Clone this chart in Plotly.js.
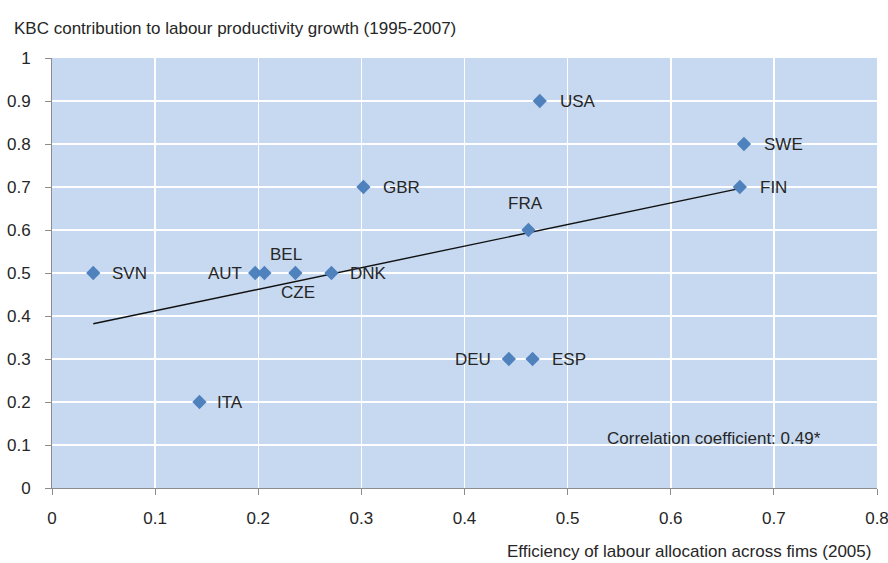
<!DOCTYPE html>
<html>
<head>
<meta charset="utf-8">
<script src="https://cdn.plot.ly/plotly-3.0.1.min.js"></script>
<style>html,body{margin:0;padding:0;background:#fff;}#chart{width:888px;height:563px;}</style>
</head>
<body>
<div id="chart"></div>
<script>
var countries = ["SVN","ITA","AUT","BEL","CZE","DNK","GBR","FRA","USA","DEU","ESP","SWE","FIN"];
var efficiency = [0.040,0.143,0.197,0.206,0.236,0.271,0.302,0.462,0.473,0.443,0.466,0.671,0.667];
var kbcContribution = [0.5,0.2,0.5,0.5,0.5,0.5,0.7,0.6,0.9,0.3,0.3,0.8,0.7];
var xTicks = [0,0.1,0.2,0.3,0.4,0.5,0.6,0.7,0.8];
var xTickText = ["0","0.1","0.2","0.3","0.4","0.5","0.6","0.7","0.8"];
var yTicks = [0,0.1,0.2,0.3,0.4,0.5,0.6,0.7,0.8,0.9,1];
var yTickText = ["0","0.1","0.2","0.3","0.4","0.5","0.6","0.7","0.8","0.9","1"];
var yTitle = "KBC contribution to labour productivity growth (1995-2007)";
var xTitle = "Efficiency of labour allocation across fims (2005)";
var correlationText = "Correlation coefficient: 0.49*";

// label placement (style): [xanchor, yanchor, xshift, yshift]
var labelPlacement = [
  ["left","middle",17,0], ["left","middle",16,0], ["right","middle",-11,0],
  ["center","middle",22,19], ["center","middle",3,-19], ["left","middle",17,0],
  ["left","middle",18,0], ["center","middle",-3,27], ["left","middle",18,0],
  ["right","middle",-16,0], ["left","middle",17,0], ["left","middle",18,0],
  ["left","middle",18,0]
];

// OLS fit from the data
var n = efficiency.length, mx = 0, my = 0;
for (var i=0;i<n;i++){mx+=efficiency[i];my+=kbcContribution[i];}
mx/=n; my/=n;
var sxy=0,sxx=0;
for (var i=0;i<n;i++){sxy+=(efficiency[i]-mx)*(kbcContribution[i]-my);sxx+=(efficiency[i]-mx)*(efficiency[i]-mx);}
var slope=sxy/sxx, icpt=my-slope*mx;
var xmin=Math.min.apply(null,efficiency), xmax=Math.max.apply(null,efficiency);
var fitX=[xmin,xmax], fitY=[icpt+slope*xmin, icpt+slope*xmax];

var fam = "Liberation Sans, Arial, sans-serif";
var txtColor = "#262626";
var fs = 17;

var traces = [
  {x:fitX, y:fitY, mode:"lines", line:{color:"#111", width:1.4}, hoverinfo:"skip", showlegend:false},
  {x:efficiency, y:kbcContribution, mode:"markers",
   marker:{symbol:"diamond", size:11, color:"#4f81bd"}, showlegend:false, cliponaxis:false}
];

var annotations = countries.map(function(c,i){
  var p = labelPlacement[i];
  return {x:efficiency[i], y:kbcContribution[i], xref:"x", yref:"y", text:c, showarrow:false,
    xanchor:p[0], yanchor:p[1], xshift:p[2], yshift:p[3], font:{family:fam,size:fs,color:txtColor}};
});
annotations.push(
  {xref:"paper", yref:"paper", x:0.670, y:0.116, xanchor:"left", yanchor:"middle", showarrow:false,
   text:correlationText, font:{family:fam,size:fs,color:txtColor}},
  {xref:"paper", yref:"paper", x:-0.0485, y:1.0, yshift:30, xanchor:"left", yanchor:"middle", showarrow:false,
   text:yTitle, font:{family:fam,size:fs,color:txtColor}},
  {xref:"paper", yref:"paper", x:0.995, y:0, yshift:-63, xanchor:"right", yanchor:"middle", showarrow:false,
   text:xTitle, font:{family:fam,size:fs,color:txtColor}}
);

var layout = {
  width:888, height:563,
  margin:{l:52, r:11, t:58, b:75},
  paper_bgcolor:"#ffffff", plot_bgcolor:"#c6d9f0",
  font:{family:fam, size:fs, color:txtColor},
  showlegend:false,
  xaxis:{range:[0,0.8], tickvals:xTicks, ticktext:xTickText, showgrid:true, gridcolor:"#ffffff", gridwidth:1.5,
    zeroline:false, showline:true, linecolor:"#8c8c8c", linewidth:1, ticks:"outside", ticklen:6, tickcolor:"#8c8c8c",
    ticklabelstandoff:9, ticklabeloverflow:"allow", tickfont:{family:fam,size:fs,color:txtColor}},
  yaxis:{range:[0,1], tickvals:yTicks, ticktext:yTickText, showgrid:true, gridcolor:"#ffffff", gridwidth:1.5,
    zeroline:false, showline:true, linecolor:"#8c8c8c", linewidth:1, ticks:"outside", ticklen:6, tickcolor:"#8c8c8c",
    ticklabelstandoff:11, ticklabeloverflow:"allow", tickfont:{family:fam,size:fs,color:txtColor}},
  annotations:annotations
};

Plotly.newPlot("chart", traces, layout, {staticPlot:true, displayModeBar:false});
</script>
</body>
</html>
